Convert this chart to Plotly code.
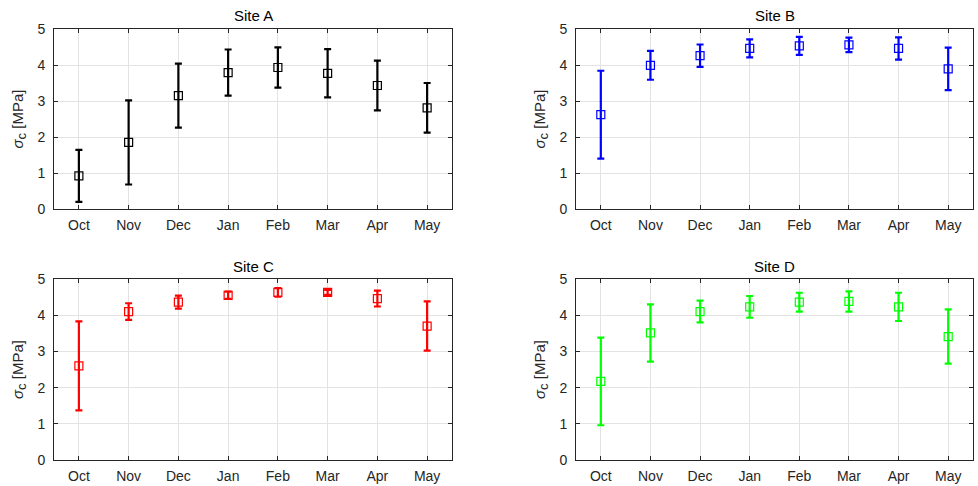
import plotly.graph_objects as go

# Monthly compressive strength (mean ± std) at four sites
months = ["Oct", "Nov", "Dec", "Jan", "Feb", "Mar", "Apr", "May"]

site_a_mean = [0.92, 1.85, 3.15, 3.79, 3.93, 3.77, 3.43, 2.81]
site_a_err = [0.72, 1.17, 0.89, 0.64, 0.56, 0.67, 0.69, 0.69]

site_b_mean = [2.62, 3.99, 4.26, 4.46, 4.53, 4.56, 4.46, 3.89]
site_b_err = [1.22, 0.40, 0.31, 0.25, 0.25, 0.20, 0.31, 0.59]

site_c_mean = [2.60, 4.10, 4.36, 4.55, 4.63, 4.63, 4.46, 3.70]
site_c_err = [1.23, 0.23, 0.18, 0.10, 0.12, 0.07, 0.22, 0.68]

site_d_mean = [2.17, 3.51, 4.10, 4.23, 4.36, 4.38, 4.23, 3.41]
site_d_err = [1.21, 0.79, 0.30, 0.30, 0.26, 0.28, 0.39, 0.75]

sites = [
    ("Site A", site_a_mean, site_a_err, "#000000"),
    ("Site B", site_b_mean, site_b_err, "#0000ff"),
    ("Site C", site_c_mean, site_c_err, "#ff0000"),
    ("Site D", site_d_mean, site_d_err, "#00ff00"),
]

W, H = 978, 486
# panel boxes in pixels: (left, right, top, bottom)
boxes = [
    (54, 452, 29, 209),
    (576, 973, 29, 209),
    (54, 452, 279, 460),
    (576, 973, 279, 460),
]

FONT = "Liberation Sans, Arial, sans-serif"
TXT = "#262626"

fig = go.Figure()
layout = dict(
    width=W, height=H,
    margin=dict(l=0, r=0, t=0, b=0),
    paper_bgcolor="white", plot_bgcolor="white",
    showlegend=False,
    font=dict(family=FONT, color=TXT, size=14),
    annotations=[],
)

ytitle = ('<i>σ</i><sub><span style="font-size:13px">c</span></sub> [MPa]')

for i, ((name, mean, err, color), (l, r, t, b)) in enumerate(zip(sites, boxes)):
    n = "" if i == 0 else str(i + 1)
    fig.add_trace(go.Scatter(
        x=months, y=mean,
        mode="markers",
        xaxis="x" + n, yaxis="y" + n,
        marker=dict(symbol="square-open", size=8, color=color,
                    line=dict(width=1.2, color=color)),
        error_y=dict(type="data", array=err, symmetric=True,
                     color=color, thickness=2.2, width=3.5),
    ))
    axis_common = dict(
        showline=True, linecolor=TXT, linewidth=1, mirror="ticks",
        ticks="inside", ticklen=4, tickcolor=TXT, tickwidth=1,
        showgrid=True, gridcolor="#e3e3e3", gridwidth=1,
        zeroline=False, automargin=False,
        tickfont=dict(family=FONT, size=14, color=TXT),
    )
    layout["xaxis" + n] = dict(
        axis_common,
        domain=[l / W, r / W],
        anchor="y" + n,
        type="category", categoryorder="array", categoryarray=months,
        range=[-0.5, 7.5],
        ticklabelstandoff=3,
    )
    layout["yaxis" + n] = dict(
        axis_common,
        domain=[1 - b / H, 1 - t / H],
        anchor="x" + n,
        range=[0, 5], tickvals=[0, 1, 2, 3, 4, 5],
        ticklabelstandoff=5,
        title=dict(text=ytitle, standoff=10,
                   font=dict(family=FONT, size=15, color=TXT)),
    )
    layout["annotations"].append(dict(
        text=name, x=(l + r) / 2 / W, y=1 - (t - 13) / H,
        xref="paper", yref="paper", showarrow=False,
        xanchor="center", yanchor="middle",
        font=dict(family=FONT, size=15, color="#000000"),
    ))

fig.update_layout(**layout)
fig.write_html("out.html")
